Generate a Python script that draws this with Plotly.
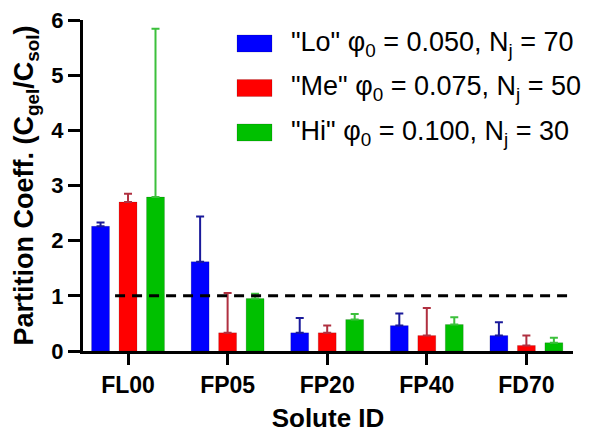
import plotly.graph_objects as go

categories = ["FL00", "FP05", "FP20", "FP40", "FD70"]
series_names = ['"Lo" φ<sub>0</sub> = 0.050, N<sub>j</sub> = 70',
                '"Me" φ<sub>0</sub> = 0.075, N<sub>j</sub> = 50',
                '"Hi" φ<sub>0</sub> = 0.100, N<sub>j</sub> = 30']
lo_vals = [2.26, 1.62, 0.33, 0.46, 0.28]
lo_err = [0.07, 0.82, 0.27, 0.22, 0.24]
me_vals = [2.70, 0.33, 0.33, 0.28, 0.10]
me_err = [0.15, 0.72, 0.13, 0.50, 0.18]
hi_vals = [2.79, 0.95, 0.57, 0.48, 0.15]
hi_err = [3.05, 0.09, 0.10, 0.13, 0.09]
ref_value = 1.0

bar_colors = ["#0000FF", "#FF0000", "#00C000"]
err_colors = ["#1A1A9A", "#B03040", "#3CC03C"]

FONT = "Arial, Liberation Sans, sans-serif"

fig = go.Figure()
for name, vals, errs, bc, ec in zip(series_names, [lo_vals, me_vals, hi_vals],
                                     [lo_err, me_err, hi_err], bar_colors, err_colors):
    fig.add_trace(go.Bar(
        x=categories, y=vals, name=name, showlegend=False,
        marker=dict(color=bc, line=dict(color="rgba(0,0,0,0.15)", width=1)),
        error_y=dict(type="data", array=errs, arrayminus=[0]*len(errs), symmetric=False,
                     color=ec, thickness=2, width=4),
    ))

fig.add_shape(type="line", xref="x", yref="y", x0=-0.13, x1=4.42, y0=ref_value, y1=ref_value,
              line=dict(color="black", width=3, dash="10px,7px"), layer="above")

# manual legend
leg_y = [43.5, 88, 132.5]
for name, bc, yy in zip(series_names, bar_colors, leg_y):
    fig.add_shape(type="rect", xref="paper", yref="paper",
                  x0=(237-83)/490, x1=(272-83)/490,
                  y0=(351-(yy+8.5))/331, y1=(351-(yy-8.5))/331,
                  fillcolor=bc, line=dict(color="rgba(0,0,0,0.15)", width=1))
    fig.add_annotation(xref="paper", yref="paper", x=(289-83)/490, y=(351-yy)/331,
                       text=name, showarrow=False, xanchor="left", yanchor="middle",
                       font=dict(family=FONT, size=27, color="black"))

fig.update_layout(
    width=589, height=433,
    margin=dict(l=83, r=16, t=20, b=82),
    paper_bgcolor="white", plot_bgcolor="white",
    barmode="group", bargap=0.172, bargroupgap=0.348,
    font=dict(family=FONT, color="black"),
)
fig.update_xaxes(
    range=[-0.452, 4.468], showline=True, linecolor="black", linewidth=3,
    ticks="outside", ticklen=11, tickwidth=3, tickcolor="black", automargin=False,
    tickfont=dict(family=FONT, size=23, color="black", weight="bold"),
    title=dict(text="Solute ID", font=dict(family=FONT, size=26, color="black", weight="bold"), standoff=16),
    showgrid=False, zeroline=False,
)
fig.update_yaxes(
    range=[0, 6], showline=True, linecolor="black", linewidth=3,
    ticks="outside", ticklen=12, tickwidth=3, tickcolor="black", automargin=False,
    tickvals=[0, 1, 2, 3, 4, 5, 6],
    tickfont=dict(family=FONT, size=22, color="black", weight="bold"),
    title=dict(text="Partition Coeff. (C<sub>gel</sub>/C<sub>sol</sub>)",
               font=dict(family=FONT, size=27, color="black", weight="bold"), standoff=10),
    showgrid=False, zeroline=False,
)

fig.write_html("out.html")
